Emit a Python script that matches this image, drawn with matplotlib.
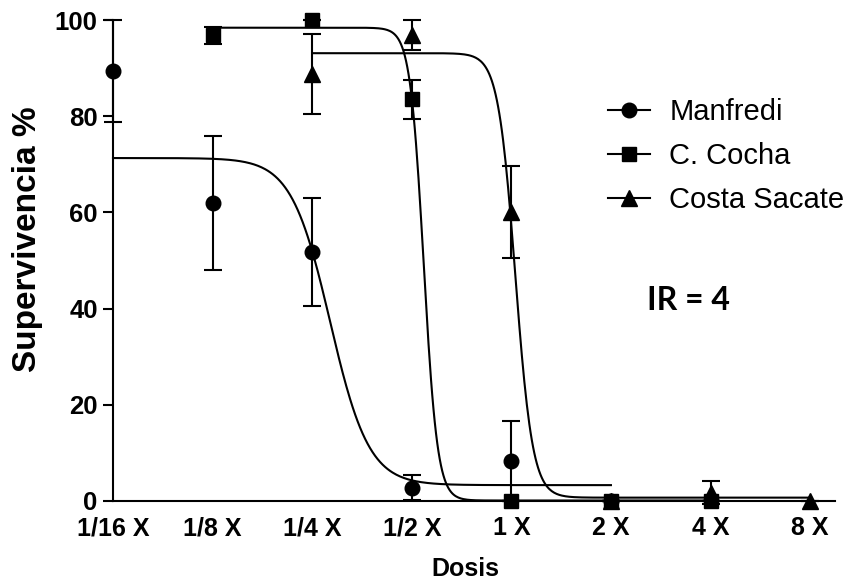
import numpy as np
import matplotlib.pyplot as plt

plt.rcParams['font.family'] = ['Liberation Sans', 'DejaVu Sans']

# dose positions (log2 steps from 1/16 X)
dose_labels = ['1/16 X', '1/8 X', '1/4 X', '1/2 X', '1 X', '2 X', '4 X', '8 X']

manfredi_x = [0, 1, 2, 3, 4, 5]
manfredi_y = [89.4, 61.9, 51.7, 2.8, 8.3, 0.0]
manfredi_err = [10.7, 13.9, 11.2, 2.6, 8.3, 0.0]

cocha_x = [1, 2, 3, 4, 5, 6]
cocha_y = [96.8, 100.0, 83.5, 0.0, 0.0, 0.0]
cocha_err = [1.8, 0.0, 4.0, 0.0, 0.0, 0.0]

sacate_x = [2, 3, 4, 5, 6, 7]
sacate_y = [88.8, 96.9, 60.1, 0.0, 1.7, 0.0]
sacate_err = [8.3, 3.1, 9.5, 0.0, 2.4, 0.0]

# sigmoid fit parameters: top, bottom, midpoint (log2 position), slope
manfredi_fit = (71.3, 3.3, 2.18, 7.4)
cocha_fit = (98.4, 0.1, 3.12, 21.0)
sacate_fit = (93.1, 0.7, 4.04, 16.6)


def sigmoid(x, p):
    top, bottom, mid, slope = p
    return bottom + (top - bottom) / (1 + 2 ** (slope * (x - mid)))


fig = plt.figure(figsize=(8.52, 5.86), dpi=100)
ax = fig.add_axes([113 / 852, 85 / 586, 722 / 852, 481 / 586])

series = [
    ('Manfredi', manfredi_x, manfredi_y, manfredi_err, manfredi_fit, 'o', 10.5),
    ('C. Cocha', cocha_x, cocha_y, cocha_err, cocha_fit, 's', 10.5),
    ('Costa Sacate', sacate_x, sacate_y, sacate_err, sacate_fit, '^', 11),
]

handles = []
for name, xs, ys, errs, fit, mk, ms in series:
    xx = np.linspace(xs[0], xs[-1], 400)
    ax.plot(xx, sigmoid(xx, fit), color='black', lw=1.5, clip_on=False, zorder=2)
    ax.errorbar(xs, ys, yerr=errs, fmt=mk, color='black', ms=ms, elinewidth=1.5,
                capsize=6.5, capthick=1.5, clip_on=False, zorder=3)
    h, = ax.plot([], [], color='black', marker=mk, ms=ms, lw=1.5, label=name)
    handles.append(h)

ax.set_xlim(0, 7.25)
ax.set_ylim(0, 100)
ax.set_xticks(range(len(dose_labels)))
ax.set_xticklabels(dose_labels)
ax.set_yticks([0, 20, 40, 60, 80, 100])

for s in ['top', 'right']:
    ax.spines[s].set_visible(False)
for s in ['left', 'bottom']:
    ax.spines[s].set_linewidth(1.5)

ax.tick_params(axis='y', direction='out', length=7, width=1.5, pad=4,
               labelsize=18.5)
ax.tick_params(axis='x', length=0, pad=11, labelsize=18)
for lab in ax.get_xticklabels() + ax.get_yticklabels():
    lab.set_fontweight('bold')

ax.set_xlabel('Dosis', fontsize=18, fontweight='bold')
ax.set_ylabel('Supervivencia %', fontsize=24, fontweight='bold', va='center')
ax.xaxis.set_label_coords(0.4875, -0.116)
ax.yaxis.set_label_coords(-0.118, 0.545)

fig.legend(handles=handles, loc='upper left', bbox_to_anchor=(608 / 852, 1 - 98 / 586),
           frameon=False, fontsize=21, handlelength=1.45, handletextpad=0.65,
           labelspacing=0.55, borderpad=0, borderaxespad=0, numpoints=1)

ax.text(647 / 852, 1 - 300 / 586, 'IR = 4', transform=fig.transFigure,
        fontsize=23, fontweight='bold', family=['Lato', 'DejaVu Sans'],
        va='center', ha='left')

fig.savefig('out.png', dpi=100)
